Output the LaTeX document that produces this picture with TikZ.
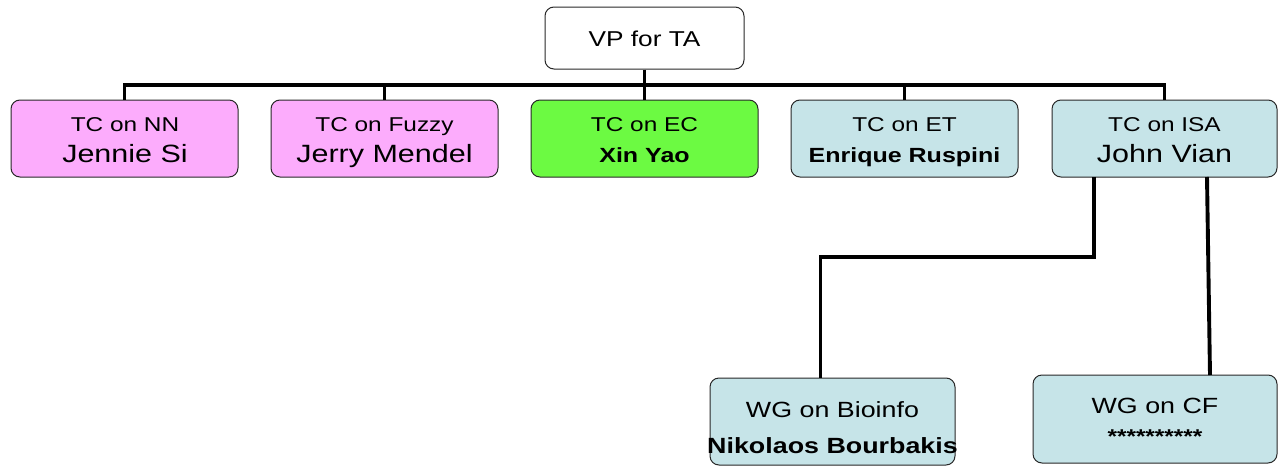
\documentclass[tikz,border=0pt]{standalone}
\usepackage{fontspec}
\setmainfont{Liberation Sans}
\newfontfamily\wf[FakeStretch=1.22]{Liberation Sans}
\definecolor{pinkfill}{RGB}{252,172,252}
\definecolor{greenfill}{RGB}{108,250,66}
\definecolor{bluefill}{RGB}{198,228,232}
\definecolor{edge}{RGB}{40,40,40}
\newcommand{\fTC}{\wf\fontsize{20}{24}\selectfont}
\newcommand{\fNM}{\wf\fontsize{25}{30}\selectfont}
\newcommand{\fBN}{\wf\bfseries\fontsize{20.5}{24}\selectfont}
\newcommand{\fVP}{\wf\fontsize{21.5}{26}\selectfont}
\newcommand{\fWG}{\wf\fontsize{22}{26}\selectfont}
\newcommand{\fWB}{\wf\bfseries\fontsize{22}{26}\selectfont}
\newcommand{\fST}{\wf\bfseries\fontsize{20}{24}\selectfont}
\begin{document}
\begin{tikzpicture}[x=1pt,y=-1pt,
  box/.style={draw=edge,line width=1pt,rounded corners=9pt,inner sep=0pt,minimum height=77pt,minimum width=227pt},
  lbl/.style={anchor=base,inner sep=0pt},
  conn/.style={line width=3.9pt,line cap=rect}]
\useasboundingbox (0,0) rectangle (1278,466);
% boxes
\node[box,fill=white,minimum width=199pt,minimum height=62pt] (vp) at (644.5,38) {};
\node[box,fill=pinkfill] (nn) at (124.5,138.5) {};
\node[box,fill=pinkfill] (fz) at (384.5,138.5) {};
\node[box,fill=greenfill] (ec) at (644.5,138.5) {};
\node[box,fill=bluefill] (et) at (904.5,138.5) {};
\node[box,fill=bluefill,minimum width=225pt] (isa) at (1164.5,138.5) {};
\node[box,fill=bluefill,minimum width=245pt,minimum height=87pt] (bio) at (832.5,421.5) {};
\node[box,fill=bluefill,minimum width=244pt,minimum height=88pt] (cf) at (1155,419) {};
% connector points
\coordinate (bus) at (644.5,85);
\coordinate (busL) at (124.5,85);
\coordinate (busF) at (384.5,85);
\coordinate (busE) at (904.5,85);
\coordinate (busR) at (1164.5,85);
\coordinate (isaA) at (1094,177);
\coordinate (isaB) at (1207,177);
\coordinate (elbowA) at (1094,257);
\coordinate (elbowB) at (820.5,257);
\coordinate (bioTop) at (820.5,378);
\coordinate (cfTop) at (1210,375);
% connectors
\draw[conn,line cap=butt] (vp.south) -- (ec.north);
\draw[conn] (busL) -- (busR);
\draw[conn,line cap=butt] (busL) -- (nn.north);
\draw[conn,line cap=butt] (busF) -- (fz.north);
\draw[conn,line cap=butt] (busE) -- (et.north);
\draw[conn,line cap=butt] (busR) -- (isa.north);
\draw[conn,line cap=butt,line join=miter] (isaA) -- (elbowA) -- (elbowB) -- (bioTop);
\draw[conn,line cap=butt] (isaB) -- (cfTop);
% labels
\node[lbl] (vpt) at (644.5,46.7) {\fVP VP for TA};
\node[lbl] (nn1) at (125,131) {\fTC TC on NN};
\node[lbl] (nn2) at (125,162.3) {\fNM Jennie Si};
\node[lbl] (fz1) at (384.5,131) {\fTC TC on Fuzzy};
\node[lbl] (fz2) at (384.5,162.3) {\fNM Jerry Mendel};
\node[lbl] (ec1) at (644.5,131) {\fTC TC on EC};
\node[lbl] (ec2) at (644.5,162) {\fBN Xin Yao};
\node[lbl] (et1) at (904.5,131) {\fTC TC on ET};
\node[lbl] (et2) at (904.5,162) {\fBN Enrique Ruspini};
\node[lbl] (isa1) at (1164.5,131) {\fTC TC on ISA};
\node[lbl] (isa2) at (1164.5,162.3) {\fNM John Vian};
\node[lbl] (bio1) at (832.5,417) {\fWG WG on Bioinfo};
\node[lbl] (bio2) at (832.5,453) {\fWB Nikolaos Bourbakis};
\node[lbl] (cf1) at (1155,413.3) {\fWG WG on CF};
\node[lbl] (cf2) at (1155,443) {\fST **********};
\end{tikzpicture}
\end{document}
